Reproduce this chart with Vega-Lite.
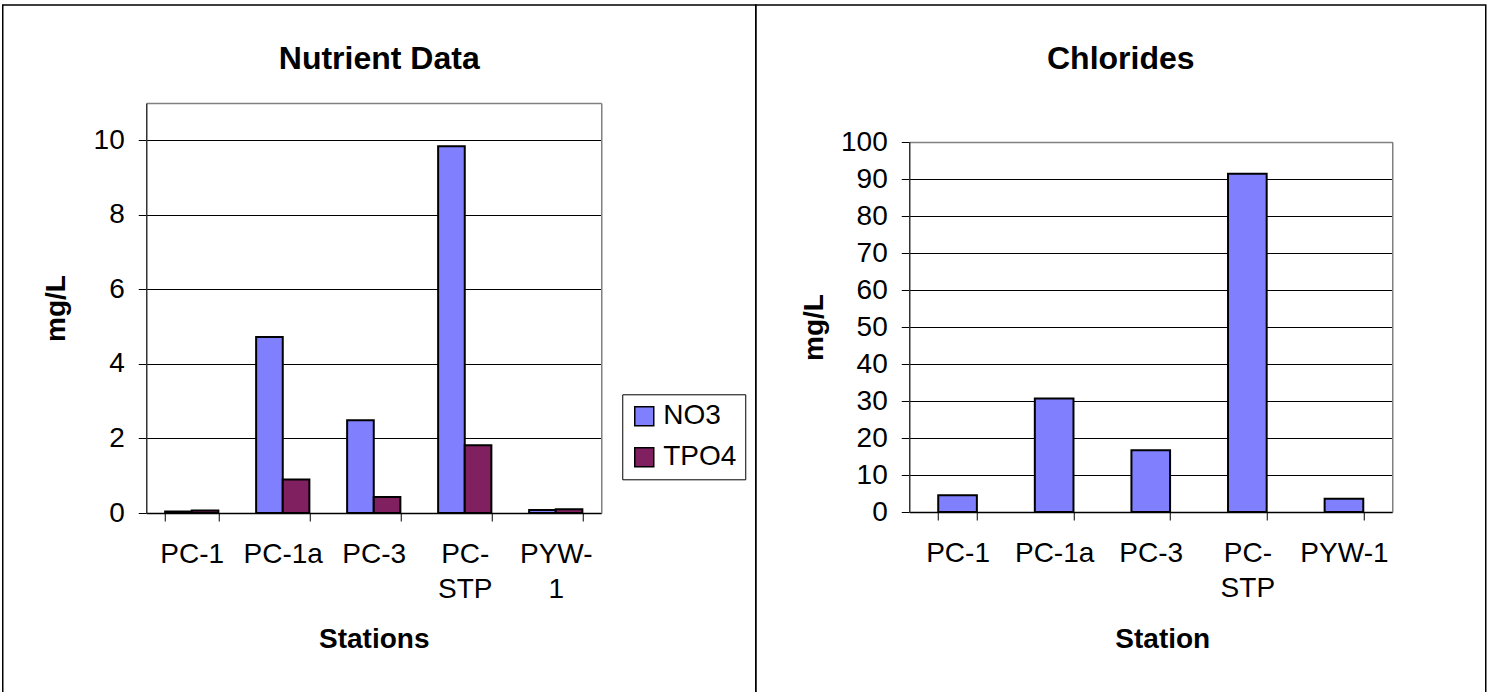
{
  "$schema": "https://vega.github.io/schema/vega-lite/v6.json",
  "padding": {"left": 1.75, "top": 4, "right": 5, "bottom": -6},
  "background": "white",
  "bounds": "flush",
  "spacing": 0,
  "config": {
    "font": "Liberation Sans",
    "view": {"stroke": "#000", "strokeWidth": 1.5},
    "axis": {"labelColor": "#000", "titleColor": "#000", "tickColor": "#000", "domainColor": "#000", "labelFont": "Liberation Sans", "titleFont": "Liberation Sans"},
    "title": {"color": "#000", "font": "Liberation Sans"}
  },
  "datasets": {
    "nutrients": [
      {"station": "PC-1", "param": "NO3", "value": 0.04},
      {"station": "PC-1", "param": "TPO4", "value": 0.07},
      {"station": "PC-1a", "param": "NO3", "value": 4.72},
      {"station": "PC-1a", "param": "TPO4", "value": 0.9},
      {"station": "PC-3", "param": "NO3", "value": 2.49},
      {"station": "PC-3", "param": "TPO4", "value": 0.43},
      {"station": "PC-STP", "param": "NO3", "value": 9.84},
      {"station": "PC-STP", "param": "TPO4", "value": 1.82},
      {"station": "PYW-1", "param": "NO3", "value": 0.08},
      {"station": "PYW-1", "param": "TPO4", "value": 0.1}
    ],
    "chlorides": [
      {"station": "PC-1", "value": 4.5},
      {"station": "PC-1a", "value": 30.7},
      {"station": "PC-3", "value": 16.7},
      {"station": "PC-STP", "value": 91.4},
      {"station": "PYW-1", "value": 3.6}
    ]
  },
  "hconcat": [
    {
      "width": 753,
      "height": 692,
      "data": {"name": "nutrients"},
      "title": {"text": "Nutrient Data", "fontSize": 32, "fontWeight": "bold", "frame": "group", "anchor": "middle", "baseline": "alphabetic", "offset": -96},
      "resolve": {"axis": {"x": "independent", "y": "independent"}},
      "layer": [
        {
          "mark": {"type": "bar", "stroke": "#000", "strokeWidth": 2},
          "encoding": {
            "x": {
              "field": "station", "type": "nominal", "sort": ["PC-1", "PC-1a", "PC-3", "PC-STP", "PYW-1"],
              "scale": {"range": [143.5, 598.5], "paddingInner": 0.415, "paddingOuter": 0.2075},
              "axis": {
                "orient": "bottom", "offset": -184, "tickBand": "extent", "labelAngle": 0,
                "labelFontSize": 28, "labelPadding": 19, "labelBaseline": "top", "labelLineHeight": 35.5,
                "labelExpr": "datum.label == 'PC-STP' ? ['PC-', 'STP'] : datum.label == 'PYW-1' ? ['PYW-', '1'] : datum.label",
                "tickSize": 8, "tickWidth": 1, "domainWidth": 1.5, "grid": false,
                "title": "Stations", "titleFontSize": 28, "titleFontWeight": "bold", "titleBaseline": "alphabetic", "titleY": 134.3
              }
            },
            "xOffset": {"field": "param", "type": "nominal", "scale": {"paddingInner": 0, "paddingOuter": 0}},
            "y": {
              "field": "value", "type": "quantitative",
              "scale": {"domain": [0, 11], "range": [508, 98], "nice": false, "zero": true},
              "axis": {
                "orient": "left", "offset": -143.5, "values": [0, 2, 4, 6, 8, 10],
                "labelFontSize": 28, "labelPadding": 14, "tickSize": 8, "tickWidth": 1,
                "domainColor": "#333", "domainWidth": 1.5,
                "grid": true, "gridColor": "#000", "gridWidth": 1,
                "title": "mg/L", "titleFontSize": 28, "titleFontWeight": "bold", "titleBaseline": "alphabetic", "titleAlign": "center", "titleAngle": -90, "titleX": -81.5
              }
            },
            "color": {
              "field": "param", "type": "nominal",
              "scale": {"domain": ["NO3", "TPO4"], "range": ["#8080FF", "#802060"]},
              "legend": {
                "title": null, "orient": "none", "legendX": 619.5, "legendY": 389.3,
                "strokeColor": "#000", "padding": 8, "symbolType": "square", "symbolSize": 361,
                "symbolStrokeColor": "#000", "symbolStrokeWidth": 1.5,
                "labelFontSize": 28, "labelOffset": 5, "rowPadding": 13, "labelColor": "#000"
              }
            }
          }
        },
        {
          "mark": {"type": "bar", "opacity": 0},
          "encoding": {
            "x": {"field": "station", "type": "nominal", "axis": {"orient": "top", "offset": -98, "labels": false, "ticks": false, "grid": false, "title": null, "domainColor": "#808080", "domainWidth": 1.5}},
            "y": {"field": "value", "type": "quantitative", "axis": {"orient": "right", "offset": -154.5, "labels": false, "ticks": false, "grid": false, "title": null, "domainColor": "#808080", "domainWidth": 1.5}}
          }
        }
      ]
    },
    {
      "width": 730,
      "height": 692,
      "data": {"name": "chlorides"},
      "title": {"text": "Chlorides", "fontSize": 32, "fontWeight": "bold", "frame": "group", "anchor": "middle", "baseline": "alphabetic", "offset": -96},
      "resolve": {"axis": {"x": "independent", "y": "independent"}},
      "layer": [
        {
          "mark": {"type": "bar", "stroke": "#000", "strokeWidth": 2, "fill": "#8080FF"},
          "encoding": {
            "x": {
              "field": "station", "type": "nominal", "sort": ["PC-1", "PC-1a", "PC-3", "PC-STP", "PYW-1"],
              "scale": {"range": [153.5, 636.5], "paddingInner": 0.6, "paddingOuter": 0.3},
              "axis": {
                "orient": "bottom", "offset": -185, "tickBand": "extent", "labelAngle": 0,
                "labelFontSize": 28, "labelPadding": 19, "labelBaseline": "top", "labelLineHeight": 35.5,
                "labelExpr": "datum.label == 'PC-STP' ? ['PC-', 'STP'] : datum.label",
                "tickSize": 8, "tickWidth": 1, "domainWidth": 1.5, "grid": false,
                "title": "Station", "titleFontSize": 28, "titleFontWeight": "bold", "titleBaseline": "alphabetic", "titleY": 135.3, "titleX": 406.5
              }
            },
            "y": {
              "field": "value", "type": "quantitative",
              "scale": {"domain": [0, 100], "range": [507, 137], "nice": false, "zero": true},
              "axis": {
                "orient": "left", "offset": -153.5, "values": [0, 10, 20, 30, 40, 50, 60, 70, 80, 90, 100],
                "labelFontSize": 28, "labelPadding": 14, "tickSize": 8, "tickWidth": 1,
                "domainColor": "#333", "domainWidth": 1.5,
                "grid": true, "gridColor": "#000", "gridWidth": 1,
                "title": "mg/L", "titleFontSize": 28, "titleFontWeight": "bold", "titleBaseline": "alphabetic", "titleAlign": "center", "titleAngle": -90, "titleX": -87
              }
            }
          }
        },
        {
          "mark": {"type": "bar", "opacity": 0},
          "encoding": {
            "x": {"field": "station", "type": "nominal", "axis": {"orient": "top", "offset": -137, "labels": false, "ticks": false, "grid": false, "title": null, "domainColor": "#808080", "domainWidth": 1.5}},
            "y": {"field": "value", "type": "quantitative", "axis": {"orient": "right", "offset": -93.5, "labels": false, "ticks": false, "grid": false, "title": null, "domainColor": "#808080", "domainWidth": 1.5}}
          }
        }
      ]
    }
  ]
}
